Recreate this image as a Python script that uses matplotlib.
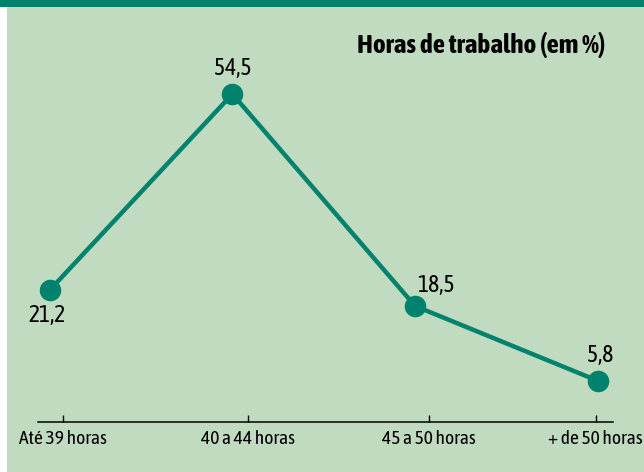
import matplotlib.pyplot as plt
from matplotlib.patches import Rectangle

categorias = ['Até 39 horas', '40 a 44 horas', '45 a 50 horas', '+ de 50 horas']
valores = [21.2, 54.5, 18.5, 5.8]
rotulos = ['21,2', '54,5', '18,5', '5,8']
titulo = 'Horas de trabalho (em %)'

verde = '#00826c'
fundo = '#c1dbc1'
plt.rcParams['font.family'] = ['Asap Condensed', 'Fira Sans Condensed', 'DejaVu Sans']

fig = plt.figure(figsize=(6.44, 4.72), dpi=100)
fig.patch.set_facecolor(fundo)

# top band and left white strip
fig.patches.append(Rectangle((0, 1 - 7 / 472), 1, 7 / 472, transform=fig.transFigure,
                             facecolor=verde, edgecolor='none', zorder=0))
fig.patches.append(Rectangle((0, 0), 7 / 644, 1 - 7 / 472, transform=fig.transFigure,
                             facecolor='white', edgecolor='none', zorder=0))

ax = fig.add_axes([38 / 644, 50 / 472, 575 / 644, 362 / 472])
ax.set_facecolor('none')
x = list(range(len(valores)))
ax.plot(x, valores, color=verde, lw=3.2, marker='o', ms=14.5,
        markerfacecolor=verde, markeredgecolor=verde, clip_on=False, zorder=3)

ax.set_xlim(-0.064, 3.083)
ax.set_ylim(-7 / 5.89, 355 / 5.89)

for s in ['top', 'right', 'left']:
    ax.spines[s].set_visible(False)
ax.spines['bottom'].set_linewidth(1.1)
ax.set_yticks([])
ax.set_xticks([i + d for i, d in zip(x, [0.073, 0.085, 0.076, -0.012])])
ax.set_xticklabels(categorias, fontsize=14)
ax.tick_params(axis='x', direction='in', length=5, width=1, pad=6)

offsets = [(-2, -18), (0.5, 18), (15, 15), (2, 18)]
for xi, v, r, off in zip(x, valores, rotulos, offsets):
    ax.annotate(r, (xi, v), xytext=off, textcoords='offset points',
                ha='center', va='center', fontsize=17)

fig.text(605 / 644, 1 - 45 / 472, titulo, ha='right', va='center',
         fontsize=19.5, fontweight='bold')

fig.savefig('out.png', dpi=100, facecolor=fig.get_facecolor())
